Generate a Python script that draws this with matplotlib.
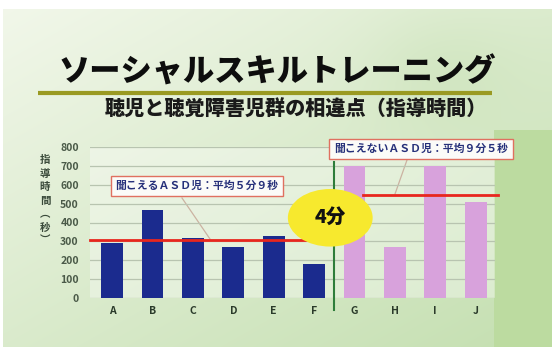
import numpy as np
import matplotlib
matplotlib.use("Agg")
import matplotlib.pyplot as plt
from matplotlib.patches import Ellipse

plt.rcParams['font.family'] = ['Noto Sans CJK JP', 'DejaVu Sans']

# ---- data ----
categories = ['A', 'B', 'C', 'D', 'E', 'F', 'G', 'H', 'I', 'J']
hearing_values = [290, 465, 320, 270, 330, 180]        # A-F
deaf_values = [700, 270, 700, 510]                     # G-J
hearing_avg = 309   # 5分9秒
deaf_avg = 545      # 9分5秒
yticks = [0, 100, 200, 300, 400, 500, 600, 700, 800]
title = 'ソーシャルスキルトレーニング'
subtitle = '聴児と聴覚障害児群の相違点（指導時間）'
ylabel_chars = ['指', '導', '時', '間', '︵', '秒', '︶']
label_hearing = '聞こえるＡＳＤ児：平均５分９秒'
label_deaf = '聞こえないＡＳＤ児：平均９分５秒'
diff_label = '4分'

W, H = 552, 347
fig = plt.figure(figsize=(W / 100, H / 100), dpi=100)

# ---- background ----
bg = fig.add_axes([0, 0, 1, 1], zorder=0)
u = np.linspace(0, 1, W)[None, :]
v = np.linspace(0, 1, H)[:, None]
light = np.array([0.95, 0.97, 0.92])
green = np.array([0.76, 0.87, 0.68])
t = np.clip(0.45 * u + 0.5 * v + 0.18 * np.exp(-((u - 0.8) ** 2) / 0.02 - ((v - 0.2) ** 2) / 0.03), 0, 1)
img = light[None, None, :] * (1 - t[..., None]) + green[None, None, :] * t[..., None]
xs = np.arange(W)[None, :]
ys = np.arange(H)[:, None]
right_mask = (xs >= 494) & (ys >= 130)
img = np.where(right_mask[..., None], np.array([0.74, 0.86, 0.63])[None, None, :], img)
img[:9, :, :] = 1.0
img[:, :3, :] = 1.0
bg.imshow(img, extent=[0, W, H, 0], aspect='auto')
bg.set_xlim(0, W)
bg.set_ylim(H, 0)
bg.axis('off')

# title, underline, subtitle
bg.text(277, 72, title, fontsize=22.5, fontweight='heavy', ha='center', va='center', color='#0d0d0d')
bg.plot([38, 492], [93, 93], color='#9a9a22', lw=3, solid_capstyle='butt')
bg.text(296, 110, subtitle, fontsize=14.5, fontweight='heavy', ha='center', va='center', color='#1a1a1a')

# y label (vertical)
for i, ch in enumerate(ylabel_chars):
    bg.text(45, 160 + i * 13.5, ch, fontsize=7.5, fontweight='bold', ha='center', va='center', color='#3a4a3a')

# ---- chart ----
ax = fig.add_axes([90 / W, 1 - 298 / H, (495 - 90) / W, (298 - 147) / H], zorder=1)
ax.set_facecolor((1, 1, 1, 0.35))
x = np.arange(len(categories))
ax.bar(x[:6], hearing_values, width=0.54, color='#1b2b8e', zorder=3)
ax.bar(x[6:], deaf_values, width=0.54, color='#d8a2dc', zorder=3)
ax.set_xlim(-0.55, 9.48)
ax.set_ylim(0, 800)
ax.set_yticks(yticks)
ax.set_yticklabels([str(y) for y in yticks], fontsize=7.5, fontweight='bold', color='#4a5a48')
ax.set_xticks(x)
ax.set_xticklabels(categories, fontsize=7.5, fontweight='bold', color='#2a3a2a')
ax.tick_params(length=0, pad=8)
ax.tick_params(axis='x', pad=6)
for s in ax.spines.values():
    s.set_visible(False)
ax.grid(axis='y', color='#b8c4b0', lw=0.9, zorder=1)
ax.set_axisbelow(True)

# average lines
ax.plot([-0.55, 5.3], [hearing_avg, hearing_avg], color='#e8261e', lw=2, zorder=4, clip_on=False)
ax.plot([6.2, 9.55], [deaf_avg, deaf_avg], color='#e8261e', lw=2, zorder=4, clip_on=False)

# divider
ax.plot([5.5, 5.5], [-65, 720], color='#2e7d3a', lw=1.5, zorder=4, clip_on=False)

# ellipse
ax.add_patch(Ellipse((5.4, 425), 2.1, 305, facecolor='#f7e92e', edgecolor='none', zorder=6, clip_on=False))
ax.text(5.4, 425, diff_label, fontsize=14, fontweight='heavy', ha='center', va='center', color='#111111', zorder=7)

# callout boxes
bg.plot([182, 210], [198, 239], color='#b08a70', lw=0.9, zorder=5)
bg.plot([407, 395], [160, 194], color='#b08a70', lw=0.9, zorder=5)

fig.text(197 / W, 1 - 186 / H, label_hearing, fontsize=7.8, fontweight='bold', ha='center', va='center',
         color='#26307a', zorder=10,
         bbox=dict(boxstyle='square,pad=0.45', fc='#fbfbf8', ec='#e07060', lw=1.0))
fig.text(421 / W, 1 - 149 / H, label_deaf, fontsize=7.8, fontweight='bold', ha='center', va='center',
         color='#26307a', zorder=10,
         bbox=dict(boxstyle='square,pad=0.45', fc='#fbfbf8', ec='#e07060', lw=1.0))

fig.savefig('out.png', dpi=100)
